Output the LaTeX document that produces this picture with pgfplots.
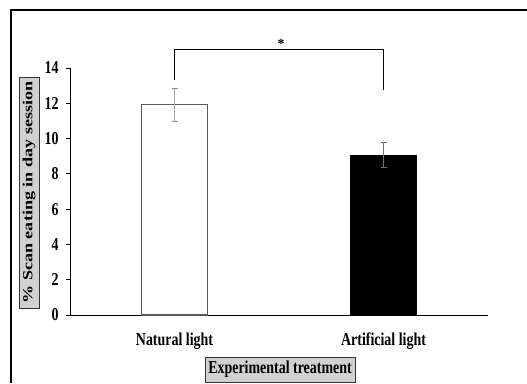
\documentclass[border=0pt]{standalone}
\usepackage{pgfplots}
\pgfplotsset{compat=1.18}
\usepackage{fontspec}
\setmainfont{Liberation Serif}
\newcommand{\sv}[1]{\scalebox{1}[1.3]{#1}}
\begin{document}
\begin{tikzpicture}[x=1bp,y=1bp]
\useasboundingbox (0,0) rectangle (527,383);
\fill[white] (0,0) rectangle (527,383);
\draw[line width=2bp] (11,0) -- (11,373) -- (527,373);
\begin{axis}[
  at={(70bp,68bp)}, anchor=south west,
  scale only axis, width=418bp, height=247bp,
  xmin=-0.5, xmax=1.5, ymin=0, ymax=14,
  axis lines=left, axis line style={-, line width=0.9bp, black},
  clip=false,
  font=\fontsize{14}{16}\selectfont\bfseries,
  xtick={0,1}, xticklabels={\sv{Natural light},\sv{Artificial light}},
  x tick style={draw=none},
  x tick label style={anchor=center, yshift=-22bp},
  ytick={0,2,4,6,8,10,12,14},
  yticklabels={\sv{0},\sv{2},\sv{4},\sv{6},\sv{8},\sv{10},\sv{12},\sv{14}},
  tick align=outside, major tick length=4bp,
  y tick style={line width=0.9bp, black},
  y tick label style={anchor=east, xshift=-4bp},
]
\addplot[ybar, bar width=66bp, bar shift=0pt, fill=white, draw=black!65, line width=1.2bp,
  error bars/.cd, y dir=both, y explicit,
  error bar style={color=black!35, line width=1.3bp},
  error mark options={rotate=90, mark size=3bp, color=black!45, line width=0.9bp}]
  coordinates {(0,11.92) +- (0,0.93)};
\addplot[ybar, bar width=66bp, bar shift=0pt, fill=black, draw=black, line width=0.8bp,
  error bars/.cd, y dir=both, y explicit,
  error bar style={color=black!55, line width=1.3bp},
  error mark options={rotate=90, mark size=3bp, color=black!55, line width=0.9bp}]
  coordinates {(1,9.07) +- (0,0.71)};
\draw[black, line width=0.8bp] (axis cs:0,13.3) -- (axis cs:0,15.06) -- (axis cs:1,15.06) -- (axis cs:1,12.77);
\node[anchor=base, inner sep=0pt, font=\fontsize{14}{16}\selectfont\bfseries] at (axis cs:0.51,15.1) {*};
\end{axis}
\node[draw=black!80, fill=black!18, line width=0.9bp, rotate=90, inner sep=0pt,
  minimum width=231bp, minimum height=20bp, font=\fontsize{14}{16}\selectfont\bfseries]
  at (29,190.5) {\scalebox{1.3}[1]{\% Scan eating in day session}};
\node[draw=black!80, fill=black!18, line width=0.9bp, inner sep=0pt,
  minimum width=150bp, minimum height=25bp, font=\fontsize{14}{16}\selectfont\bfseries]
  at (280,13.5) {\sv{Experimental treatment}};
\end{tikzpicture}
\end{document}
